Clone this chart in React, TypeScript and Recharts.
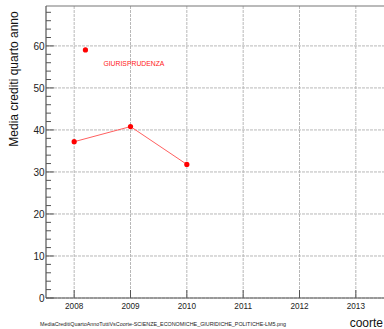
import React from 'react';
import { ComposedChart, Line, Scatter, XAxis, YAxis, CartesianGrid } from 'recharts';

const cohorts = [2008, 2009, 2010];
const credits = [37.2, 40.8, 31.8];
const legendName = 'GIURISPRUDENZA';
const legendPoint = [{ x: 2008.2, y: 59.05 }];
const xTicks = [2008, 2009, 2010, 2011, 2012, 2013];
const yMajor = [0, 10, 20, 30, 40, 50, 60];
const yAllTicks = [0, 2, 4, 6, 8, 10, 12, 14, 16, 18, 20, 22, 24, 26, 28, 30, 32, 34, 36, 38, 40, 42, 44, 46, 48, 50, 52, 54, 56, 58, 60, 62, 64, 66, 68];
const xDomain = [2007.5, 2013.5];
const yDomain = [0, 69.5];
const yTitle = 'Media crediti quarto anno';
const xTitle = 'coorte';
const fileName = 'MediaCreditiQuartoAnnoTuttiVsCoorte-SCIENZE_ECONOMICHE_GIURIDICHE_POLITICHE-LM5.png';

const data = cohorts.map((c, i) => ({ x: c, y: credits[i] }));

const FONT = '"Liberation Sans", Arial, Helvetica, sans-serif';
const AXIS = '#555';

const XTick = (props: any) => {
  const { x, y, payload } = props;
  return (
    <g>
      <line x1={x} x2={x} y1={y} y2={y - 8} stroke={AXIS} strokeWidth={1} />
      <text x={x} y={y + 10.5} textAnchor="middle" fontSize={8.2} fontFamily={FONT} fill="#222">
        {payload.value}
      </text>
    </g>
  );
};

const YTick = (props: any) => {
  const { x, y, payload } = props;
  const major = yMajor.includes(payload.value);
  return (
    <g>
      <line x1={x} x2={x + (major ? 8 : 5)} y1={y} y2={y} stroke={AXIS} strokeWidth={1} />
      {major && (
        <text x={x - 1.5} y={y + 3.6} textAnchor="end" fontSize={10} fontFamily={FONT} fill="#222">
          {payload.value}
        </text>
      )}
    </g>
  );
};

const LegendShape = (props: any) => {
  const { cx, cy } = props;
  return (
    <g>
      <circle cx={cx} cy={cy} r={2.6} fill="#ff0000" />
      <text x={cx + 18} y={cy + 16.5} fontSize={6.5} fontFamily={FONT} fill="#ff2020" textLength={61} lengthAdjust="spacingAndGlyphs">
        {legendName}
      </text>
    </g>
  );
};

const Dot = (props: any) => {
  const { cx, cy } = props;
  return <circle cx={cx} cy={cy} r={2.6} fill="#ff0000" />;
};

export default function App() {
  return (
    <div style={{ position: 'absolute', left: 0, top: 0, width: 384, height: 329, background: '#fff' }}>
      <ComposedChart width={384} height={329} margin={{ top: 0, right: 0, left: 0, bottom: 0 }}>
        <CartesianGrid
          stroke="#b8b8b8"
          strokeDasharray="3 1"
          strokeWidth={1}
          horizontalValues={yMajor}
          verticalValues={xTicks}
        />
        <XAxis
          type="number"
          dataKey="x"
          domain={xDomain}
          ticks={xTicks}
          allowDataOverflow
          height={31}
          tickSize={0}
          tickMargin={0}
          tick={<XTick />}
          axisLine={{ stroke: AXIS, strokeWidth: 1.2 }}
          tickLine={false}
          interval={0}
        />
        <XAxis
          xAxisId="top"
          orientation="top"
          type="number"
          domain={xDomain}
          height={6}
          tick={false}
          tickLine={false}
          axisLine={{ stroke: '#777', strokeWidth: 1.2 }}
        />
        <YAxis
          type="number"
          domain={yDomain}
          ticks={yAllTicks}
          allowDataOverflow
          width={46}
          tickSize={0}
          tickMargin={0}
          tick={<YTick />}
          tickLine={false}
          axisLine={{ stroke: AXIS, strokeWidth: 1.2 }}
          interval={0}
        />
        <Line
          data={data}
          dataKey="y"
          stroke="#ff6060"
          strokeWidth={1}
          dot={<Dot />}
          activeDot={false}
          isAnimationActive={false}
        />
        <Scatter data={legendPoint} dataKey="y" shape={<LegendShape />} isAnimationActive={false} />
      </ComposedChart>
      <svg width={384} height={329} style={{ position: 'absolute', left: 0, top: 0, pointerEvents: 'none' }}>
        <text
          x={14}
          y={79}
          transform="rotate(-90 14 79)"
          textAnchor="middle"
          dominantBaseline="central"
          fontSize={12}
          fontFamily={FONT}
          fill="#111"
        >
          {yTitle}
        </text>
        <text x={383} y={327} textAnchor="end" fontSize={12} fontFamily={FONT} fill="#111">
          {xTitle}
        </text>
        <text x={40} y={325.5} fontSize={5.5} fontFamily={FONT} fill="#222" textLength={246} lengthAdjust="spacingAndGlyphs">
          {fileName}
        </text>
      </svg>
    </div>
  );
}
